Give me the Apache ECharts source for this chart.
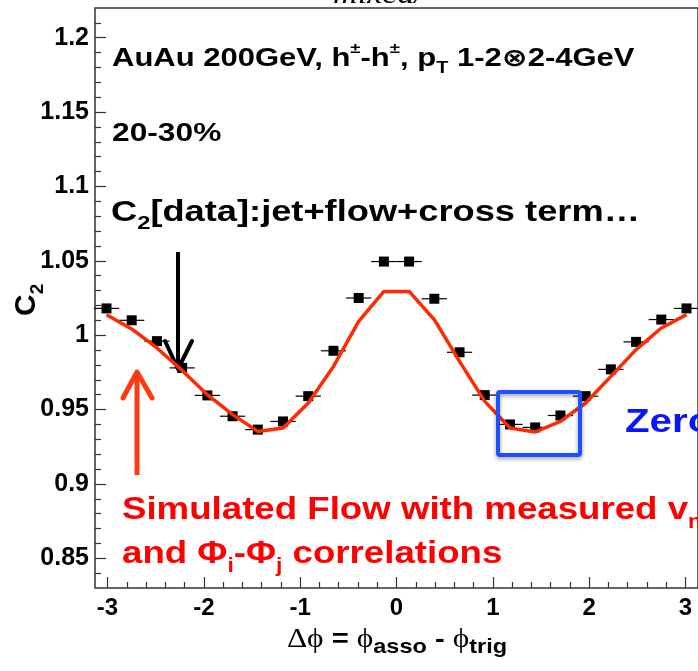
<!DOCTYPE html>
<html>
<head>
<meta charset="utf-8">
<title>C2 vs dphi</title>
<script src="https://cdn.jsdelivr.net/npm/echarts@6.0.0/dist/echarts.min.js"></script>
<style>
  html, body { margin: 0; padding: 0; background: #fff; }
  #chart { width: 698px; height: 671px; }
</style>
</head>
<body>
<div id="chart"></div>
<script>
// bin centres of delta phi (24 bins over 2pi)
const dphi = [-3.0107, -2.7489, -2.4871, -2.2253, -1.9635, -1.7017, -1.4399, -1.1781,
  -0.9163, -0.6545, -0.3927, -0.1309, 0.1309, 0.3927, 0.6545, 0.9163,
  1.1781, 1.4399, 1.7017, 1.9635, 2.2253, 2.4871, 2.7489, 3.0107]

// C2 data points
const c2Data = [1.018, 1.010, 0.996, 0.978, 0.9595, 0.9455, 0.9365, 0.942,
  0.959, 0.9895, 1.025, 1.0495, 1.0495, 1.0245, 0.9885, 0.9597,
  0.940, 0.938, 0.946, 0.959, 0.977, 0.9955, 1.0105, 1.018]

// simulated flow curve
const flowSim = [1.0138, 1.0042, 0.9914, 0.9763, 0.960, 0.9466, 0.9353, 0.9376,
  0.9544, 0.979, 1.0093, 1.0294, 1.0294, 1.0104, 0.9824, 0.9555,
  0.9376, 0.9349, 0.942, 0.9544, 0.9723, 0.9903, 1.0048, 1.0138]

const xErr = 0.1309 // half bin width

// tick labels
const xMajor = [-3, -2, -1, 0, 1, 2, 3]
const xMinor = [-2.8, -2.6, -2.4, -2.2, -1.8, -1.6, -1.4, -1.2, -0.8, -0.6, -0.4, -0.2,
  0.2, 0.4, 0.6, 0.8, 1.2, 1.4, 1.6, 1.8, 2.2, 2.4, 2.6, 2.8]
const yMajor = [0.85, 0.9, 0.95, 1, 1.05, 1.1, 1.15, 1.2]
const yMinor = [0.84, 0.86, 0.87, 0.88, 0.89, 0.91, 0.92, 0.93, 0.94, 0.96, 0.97, 0.98, 0.99,
  1.01, 1.02, 1.03, 1.04, 1.06, 1.07, 1.08, 1.09, 1.11, 1.12, 1.13, 1.14,
  1.16, 1.17, 1.18, 1.19, 1.21]

const sans = 'Liberation Sans, Arial, DejaVu Sans, sans-serif'
const serif = 'Liberation Serif, DejaVu Serif, serif'
const SX = 1.22 // the original figure is a bit stretched sideways

const chart = echarts.init(document.getElementById('chart'), null, { renderer: 'canvas' })

function lbl(fmt, size) {
  return {
    color: '#000', fontFamily: sans, fontWeight: 'bold', fontSize: size,
    formatter: fmt
  }
}

function tickAxis(len, vals) {
  return { inside: true, length: len, customValues: vals, lineStyle: { color: '#333', width: 1.2 } }
}

const noLine = { show: false, onZero: false }

const option = {
  animation: false,
  backgroundColor: '#fff',
  grid: {
    left: 95, top: 8, width: 605, height: 580,
    show: true, borderColor: '#333', borderWidth: 1.5, backgroundColor: 'transparent'
  },
  xAxis: [{
    type: 'value', min: -3.13, max: 3.13, position: 'bottom',
    axisLine: noLine,
    axisTick: tickAxis(11, xMajor),
    axisLabel: Object.assign(lbl(v => String(v), 24), { customValues: xMajor, margin: 8 }),
    splitLine: { show: false }
  }, {
    type: 'value', min: -3.13, max: 3.13, position: 'bottom',
    axisLine: noLine,
    axisTick: tickAxis(6, xMinor),
    axisLabel: { show: false },
    splitLine: { show: false }
  }],
  yAxis: [{
    type: 'value', min: 0.83, max: 1.22, position: 'left',
    axisLine: noLine,
    axisTick: tickAxis(11, yMajor),
    axisLabel: Object.assign(lbl(v => String(+v.toFixed(2)), 25), { customValues: yMajor, margin: 6 }),
    splitLine: { show: false }
  }, {
    type: 'value', min: 0.83, max: 1.22, position: 'left',
    axisLine: noLine,
    axisTick: tickAxis(6, yMinor),
    axisLabel: { show: false },
    splitLine: { show: false }
  }],
  series: [{
    name: 'data',
    type: 'custom',
    xAxisIndex: 0, yAxisIndex: 0,
    data: dphi.map((x, i) => [x, c2Data[i]]),
    renderItem: function (params, api) {
      const x = api.value(0)
      const y = api.value(1)
      const p = api.coord([x, y])
      const l = api.coord([x - xErr, y])
      const r = api.coord([x + xErr, y])
      return {
        type: 'group',
        children: [{
          type: 'line',
          shape: { x1: l[0], y1: l[1], x2: r[0], y2: r[1] },
          style: { stroke: '#000', lineWidth: 1.2 }
        }, {
          type: 'rect',
          shape: { x: p[0] - 5, y: p[1] - 5, width: 10, height: 10 },
          style: { fill: '#000' }
        }]
      }
    },
    z: 2
  }, {
    name: 'flow',
    type: 'line',
    xAxisIndex: 0, yAxisIndex: 0,
    data: dphi.map((x, i) => [x, flowSim[i]]),
    symbol: 'none',
    lineStyle: { color: '#ff2a00', width: 3.5 },
    z: 3
  }],
  graphic: [
    // cut off title at the top
    {
      type: 'text', x: 333, y: 10, z: 1, scaleX: SX,
      style: { text: 'mixed/', font: 'italic 28px ' + serif, fill: '#000', verticalAlign: 'bottom' }
    },
    {
      type: 'text', x: 112, y: 41, scaleX: 1.24,
      style: {
        text: '{n|AuAu 200GeV, h}{sp|±}{n|-h}{sp|±}{n|, p}{sb|T}{n| 1-2⊗2-4GeV}',
        fill: '#000',
        rich: {
          n: { fontSize: 25, fontWeight: 'bold', fontFamily: sans, lineHeight: 36 },
          sp: { fontSize: 15, fontWeight: 'bold', fontFamily: sans, verticalAlign: 'top', lineHeight: 30 },
          sb: { fontSize: 16, fontWeight: 'bold', fontFamily: sans, verticalAlign: 'bottom', lineHeight: 22 }
        }
      }
    },
    {
      type: 'text', x: 112, y: 121, scaleX: SX,
      style: { text: '20-30%', font: 'bold 26px ' + sans, fill: '#000' }
    },
    {
      type: 'text', x: 111, y: 193, scaleX: 1.25,
      style: {
        text: '{n|C}{sb|2}{n|[data]:jet+flow+cross term…}',
        fill: '#000',
        rich: {
          n: { fontSize: 29, fontWeight: 'bold', fontFamily: sans, lineHeight: 40 },
          sb: { fontSize: 19, fontWeight: 'bold', fontFamily: sans, verticalAlign: 'bottom', lineHeight: 24 }
        }
      }
    },
    // black arrow
    {
      type: 'polyline',
      shape: { points: [[178, 252], [178, 369]] },
      style: { stroke: '#000', lineWidth: 4 }
    },
    {
      type: 'polyline',
      shape: { points: [[165, 341], [178, 369], [192, 341]] },
      style: { stroke: '#000', lineWidth: 4, fill: null, lineJoin: 'round', lineCap: 'round' }
    },
    // red arrow
    {
      type: 'polyline',
      shape: { points: [[137, 475], [137, 372]] },
      style: { stroke: '#ff3a10', lineWidth: 5 }
    },
    {
      type: 'polyline',
      shape: { points: [[123, 398], [137, 372], [152, 398]] },
      style: { stroke: '#ff3a10', lineWidth: 5, fill: null, lineJoin: 'round', lineCap: 'round' }
    },
    {
      type: 'text', x: 122, y: 488, scaleX: 1.145,
      style: {
        text: '{n|Simulated Flow with measured v}{sb|n}\n{n|and Φ}{sb|i}{n|-Φ}{sb|j}{n| correlations}',
        fill: '#ff0000',
        rich: {
          n: { fontSize: 32, fontWeight: 'bold', fontFamily: sans, lineHeight: 44, fill: '#ff0000' },
          sb: { fontSize: 20, fontWeight: 'bold', fontFamily: sans, verticalAlign: 'bottom', lineHeight: 28, fill: '#ff0000' }
        }
      }
    },
    // blue box
    {
      type: 'rect', z: 10,
      shape: { x: 498, y: 392, width: 82, height: 63, r: 2 },
      style: {
        fill: null, stroke: '#1f50ff', lineWidth: 4,
        shadowBlur: 4, shadowColor: 'rgba(0,0,0,0.4)', shadowOffsetY: 2
      }
    },
    {
      type: 'text', x: 625, y: 406, scaleX: SX,
      style: { text: 'Zero', font: 'bold 33px ' + sans, fill: '#0a14ff' }
    },
    // axis titles
    {
      type: 'text', x: 7, y: 316, rotation: Math.PI / 2,
      style: {
        text: '{n|C}{sb|2}',
        fill: '#000',
        rich: {
          n: { fontSize: 30, fontWeight: 'bold', fontFamily: sans, lineHeight: 40 },
          sb: { fontSize: 19, fontWeight: 'bold', fontFamily: sans, verticalAlign: 'bottom', lineHeight: 24 }
        }
      }
    },
    {
      type: 'text', x: 397, y: 622, scaleX: 1.12,
      style: {
        text: '{g|Δϕ}{b| = }{g|ϕ}{sb|asso}{b| - }{g|ϕ}{sb|trig}',
        fill: '#000',
        align: 'center',
        rich: {
          g: { fontSize: 28, fontFamily: serif, lineHeight: 36 },
          b: { fontSize: 26, fontWeight: 'bold', fontFamily: sans, lineHeight: 36 },
          sb: { fontSize: 21, fontWeight: 'bold', fontFamily: sans, verticalAlign: 'bottom', lineHeight: 22 }
        }
      }
    }
  ]
}

chart.setOption(option)
</script>
</body>
</html>
